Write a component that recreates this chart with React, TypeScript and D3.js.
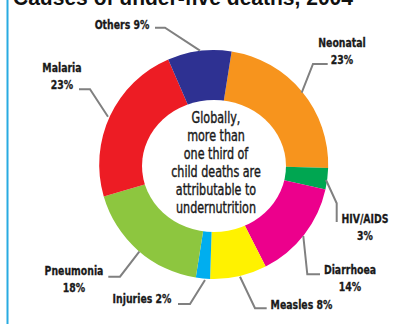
import React from "react";
import * as d3 from "d3";

const categories = ["Neonatal", "HIV/AIDS", "Diarrhoea", "Measles", "Injuries", "Pneumonia", "Malaria", "Others"];
const values = [23, 3, 14, 8, 2, 18, 23, 9];
const colors = ["#f7941d", "#00a651", "#ec008c", "#fff200", "#00aeef", "#8dc63f", "#ed1c24", "#2e3192"];
const centerLines = ["Globally,", "more than", "one third of", "child deaths are", "attributable to", "undernutrition"];
const title = "Causes of under-five deaths, 2004";

// label layout: lines of text, anchor position, leader polyline
const labelLines: string[][] = [
  ["Neonatal", "23%"],
  ["HIV/AIDS", "3%"],
  ["Diarrhoea", "14%"],
  ["Measles 8%"],
  ["Injuries 2%"],
  ["Pneumonia", "18%"],
  ["Malaria", "23%"],
  ["Others 9%"],
];
const labelPos: [number, number][] = [
  [342, 46.5],
  [365, 223.3],
  [350, 274],
  [301.5, 309.3],
  [142, 302.7],
  [74, 275],
  [62, 71.7],
  [122, 29],
];
const leaders: [number, number][][] = [
  [[327.7, 64], [313, 64], [301.7, 92.7]],
  [[326, 180], [336.7, 203.3], [336.7, 222]],
  [[303.3, 236], [307.3, 274.3], [320, 274.3]],
  [[240, 276.7], [255, 308.3], [266.7, 308.3]],
  [[205, 280], [190, 304], [178, 304]],
  [[139.3, 251.7], [120, 276.7], [108.3, 276.7]],
  [[108, 116.7], [90, 89.3], [79, 89.3]],
  [[200, 50.7], [165, 27.7], [155, 27.7]],
];

const W = 399;
const H = 324;
const cx = 213.7;
const cy = 164.5;
const R = 114.5;
const startOffset = (9 * Math.PI) / 180;
const squeeze = 0.8;

const condensed = "'Liberation Sans Narrow', 'DejaVu Sans Condensed', 'Roboto Condensed', sans-serif";

export default function App() {
  const pie = d3
    .pie<number>()
    .sort(null)
    .value((d) => d)
    .startAngle(startOffset)
    .endAngle(startOffset + 2 * Math.PI);
  const arcs = pie(values);
  const arc = d3.arc<d3.PieArcDatum<number>>().innerRadius(55).outerRadius(R);
  const line = d3.line();

  return (
    <svg
      width={W}
      height={H}
      style={{ position: "absolute", left: 0, top: 0, background: "#fff" }}
    >
      <rect x={0} y={0} width={W} height={H} fill="#fff" />
      <rect x={6.5} y={0} width={2} height={H} fill="#29abe2" />
      <text
        x={13}
        y={5}
        fontFamily="'Liberation Sans', Arial, sans-serif"
        fontWeight="bold"
        fontSize={22}
        fill="#111"
        textLength={340}
        lengthAdjust="spacingAndGlyphs"
      >
        {title}
      </text>
      <g transform={`translate(${cx},${cy})`}>
        {arcs.map((a, i) => (
          <path key={categories[i]} d={arc(a) || ""} fill={colors[i]} />
        ))}
      </g>
      <ellipse cx={214} cy={166} rx={72} ry={66} fill="#fff" />
      {centerLines.map((t, i) => (
        <g key={t} transform={`translate(216,${122.5 + i * 18}) scale(${squeeze},1)`}>
          <text
            x={0}
            y={0}
            textAnchor="middle"
            fontFamily={condensed}
            fontSize={15.5}
            fill="#1a1a1a"
            stroke="#1a1a1a"
            strokeWidth={0.4}
          >
            {t}
          </text>
        </g>
      ))}
      {leaders.map((pts, i) => (
        <path
          key={"l" + i}
          d={line(pts) || ""}
          fill="none"
          stroke="#808080"
          strokeWidth={2}
        />
      ))}
      {labelLines.map((lines, i) =>
        lines.map((ln, j) => (
          <g
            key={"t" + i + "-" + j}
            transform={`translate(${labelPos[i][0]},${labelPos[i][1] + j * 17}) scale(${squeeze},1)`}
          >
            <text
              x={0}
              y={0}
              textAnchor="middle"
              fontFamily={condensed}
              fontWeight="bold"
              fontSize={13}
              fill="#1a1a1a"
              stroke="#1a1a1a"
              strokeWidth={0.3}
            >
              {ln}
            </text>
          </g>
        ))
      )}
    </svg>
  );
}
